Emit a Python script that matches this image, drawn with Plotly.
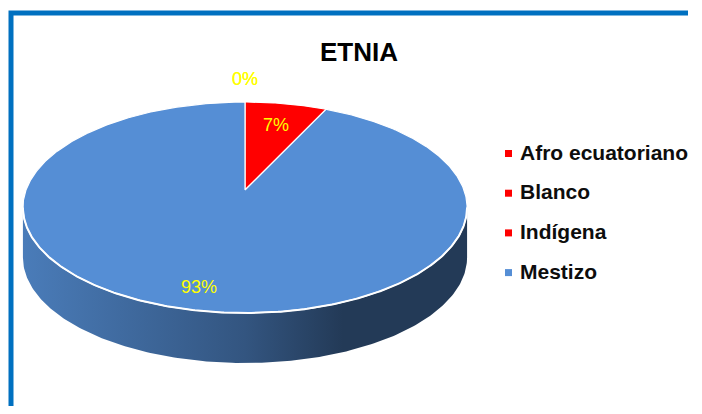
import numpy as np
import plotly.graph_objects as go

# ---- data ----
categories = ["Afro ecuatoriano", "Blanco", "Indígena", "Mestizo"]
values = [0, 0, 7, 93]
colors = ["#ff0000", "#ff0000", "#ff0000", "#558ed5"]
title_text = "ETNIA"

# ---- geometry / style constants (page pixel space) ----
OFF = 8                    # default page body margin
FW, FH = 686, 398          # figure size that fits inside the page body
CX, CY = 245, 190          # pie apex
RX, RY = 219, 102.6        # radii of projected top disc
P = 0.1659                 # perspective strength
DEPTH = 50                 # side wall height
FONT = "Liberation Sans, Arial, sans-serif"
BORDER = "#0070c0"
FRAME_RIGHT = 688          # where the top frame edge stops

def rim(theta_deg, r=1.0):
    t = np.radians(np.asarray(theta_deg, dtype=float))
    d = 1 + P * r * np.cos(t)
    x = CX + RX * r * np.sin(t) / d
    y = CY - RY * r * np.cos(t) / d
    return x, y


def shade(hexc, f):
    hexc = hexc.lstrip("#")
    rgb = [int(hexc[i:i + 2], 16) for i in (0, 2, 4)]
    return "rgb(%d,%d,%d)" % tuple(int(round(c * f)) for c in rgb)


total = float(sum(values))
angles = [v / total * 360.0 for v in values]
starts = np.concatenate([[0], np.cumsum(angles)[:-1]])
ends = starts + np.array(angles)

fig = go.Figure()

# chart frame: top and left edges
fig.add_trace(go.Scatter(
    x=[11, 11, FRAME_RIGHT], y=[OFF + FH, 13, 13], mode="lines",
    line=dict(color=BORDER, width=5), hoverinfo="skip", showlegend=False))

# side walls (front visible part)
th_s = np.degrees(np.arccos(-P))
front_lo, front_hi = th_s, 360 - th_s
for a0, a1, c in zip(starts, ends, colors):
    lo, hi = max(a0, front_lo), min(a1, front_hi)
    if hi <= lo:
        continue
    th = np.linspace(lo, hi, 200)
    x, y = rim(th)
    xs = np.concatenate([x, x[::-1]])
    ys = np.concatenate([y, (y + DEPTH)[::-1]])
    xl, _ = rim([front_hi])
    xr, _ = rim([front_lo])
    fig.add_trace(go.Scatter(
        x=xs, y=ys, mode="lines", fill="toself", line=dict(width=0),
        fillcolor=shade(c, 0.55),
        fillgradient=dict(
            type="horizontal", start=float(xl[0]), stop=float(xr[0]),
            colorscale=[[0, shade(c, 0.87)], [0.5, shade(c, 0.6)],
                        [0.72, shade(c, 0.41)], [1, shade(c, 0.41)]]),
        hoverinfo="skip", showlegend=False))

# top slices
for a0, a1, c, v in zip(starts, ends, colors, values):
    if v == 0:
        continue
    th = np.linspace(a0, a1, max(3, int((a1 - a0) * 2)))
    x, y = rim(th)
    fig.add_trace(go.Scatter(
        x=np.concatenate([[CX], x, [CX]]), y=np.concatenate([[CY], y, [CY]]),
        mode="lines", fill="toself", fillcolor=c,
        line=dict(color="white", width=1.2),
        hoverinfo="skip", showlegend=False))

# white front rim highlight
th = np.linspace(front_lo, front_hi, 300)
x, y = rim(th)
fig.add_trace(go.Scatter(x=x, y=y, mode="lines", line=dict(color="white", width=2),
                         hoverinfo="skip", showlegend=False))

annotations = []
# data labels
for a0, a1, v in zip(starts, ends, values):
    mid = (a0 + a1) / 2
    share = v / total
    r = 1.32 if v == 0 else 0.72 + 0.13 * share
    lx, ly = rim([mid], r)
    annotations.append(dict(
        x=float(lx[0]), y=float(ly[0]), text="%d%%" % round(share * 100),
        showarrow=False, xanchor="center", yanchor="middle",
        font=dict(family=FONT, size=18, color="#ffff00")))

# title
annotations.append(dict(x=359, y=52, text=title_text, showarrow=False,
                        xanchor="center", yanchor="middle",
                        font=dict(family=FONT, size=26, color="black", weight="bold")))

# legend
LEG_X, LEG_TX, LEG_Y0, LEG_DY = 508.5, 518, 152, 39.7
fig.add_trace(go.Scatter(
    x=[LEG_X] * len(categories),
    y=[LEG_Y0 + 1.5 + i * LEG_DY for i in range(len(categories))],
    mode="markers", marker=dict(symbol="square", size=7, color=colors, line=dict(width=0)),
    hoverinfo="skip", showlegend=False))
for i, cat in enumerate(categories):
    annotations.append(dict(
        x=LEG_TX, y=LEG_Y0 + i * LEG_DY, text=cat, showarrow=False,
        xanchor="left", yanchor="middle",
        font=dict(family=FONT, size=21, color="#0d0d0d", weight="bold")))

fig.update_layout(
    width=FW, height=FH, margin=dict(l=0, r=0, t=0, b=0),
    paper_bgcolor="white", plot_bgcolor="white",
    xaxis=dict(range=[OFF, OFF + FW], visible=False, fixedrange=True),
    yaxis=dict(range=[OFF + FH, OFF], visible=False, fixedrange=True),
    annotations=annotations,
    showlegend=False,
)

fig.write_html("out.html")
